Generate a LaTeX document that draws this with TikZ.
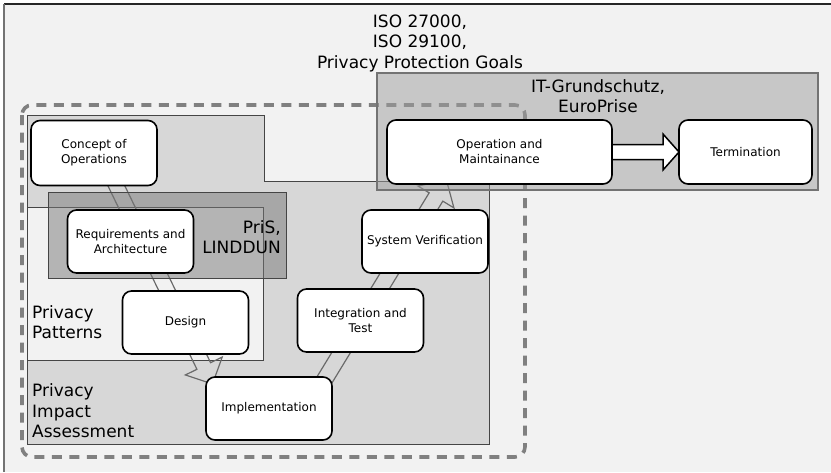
\documentclass[tikz,border=0pt]{standalone}
\usepackage{fontspec}
\setmainfont{DejaVu Sans}
\usetikzlibrary{calc}
\definecolor{bgc}{HTML}{F2F2F2}
\definecolor{piafill}{HTML}{D7D7D7}
\definecolor{dashc}{HTML}{808080}
\definecolor{arrc}{HTML}{6A6A6A}
\definecolor{prisfill}{HTML}{787878}
\definecolor{itfill}{HTML}{9E9E9E}
\definecolor{edgec}{HTML}{454545}

% #1 style, #2 start, #3 end, #4 half shaft, #5 half head, #6 head length
\newcommand\myblockarrow[6]{%
  \coordinate (ba-h) at ($(#3)!#6!(#2)$);
  \draw[#1] ($(#2)!#4!90:(#3)$) -- ($(ba-h)!#4!90:(#3)$) -- ($(ba-h)!#5!90:(#3)$)
    -- (#3) -- ($(ba-h)!#5!-90:(#3)$) -- ($(ba-h)!#4!-90:(#3)$) -- ($(#2)!#4!-90:(#3)$) -- cycle;
}

\tikzset{
  x=1pt, y=-1pt,
  proc/.style={draw=black, line width=1.6pt, fill=white, rounded corners=9pt,
    align=center, inner sep=0pt, minimum width=126pt, minimum height=63pt,
    font=\fontsize{12}{15}\selectfont},
  lbl/.style={inner sep=0pt, font=\fontsize{17}{20.5}\selectfont},
  region/.style={draw=edgec, line width=0.9pt},
  hollowarrow/.style={draw=arrc, line width=1.2pt, line join=miter},
  solidarrow/.style={draw=black, fill=white, line width=1.5pt, line join=miter},
}

\begin{document}
\begin{tikzpicture}
\useasboundingbox (0,0) rectangle (831,472);
\clip (0,0) rectangle (831,472);
\fill[white] (0,0) rectangle (831,472);
\fill[bgc] (4,4) rectangle (831,472);
\draw[black!85, line width=1.6pt] (831,4) -- (4,4);
\draw[black!55, line width=1.6pt] (4,4) -- (4,472);

% Privacy Impact Assessment region
\filldraw[region, fill=piafill] (27,115) -- (264,115) -- (264,181) -- (489,181)
  -- (489,444) -- (27,444) -- cycle;
% Privacy Patterns region
\filldraw[region, fill=bgc] (27,207) rectangle (263,360);

% dashed boundary
\draw[dashc, line width=3.6pt, dash pattern=on 10pt off 7.5pt, rounded corners=10pt]
  (22,105) rectangle (525,457);

% diagonal hollow arrows (behind boxes)
\coordinate (a1s) at (99,150);
\coordinate (a1e) at (212.5,384);
\coordinate (a2s) at (300,420);
\coordinate (a2e) at (446.4,179.9);
\myblockarrow{hollowarrow}{a1s}{a1e}{7.6pt}{20.5pt}{20pt}
\myblockarrow{hollowarrow}{a2s}{a2e}{8pt}{21pt}{20pt}

% PriS, LINDDUN box
\filldraw[region, draw=edgec, fill=prisfill, fill opacity=0.5] (48,192) rectangle (286,278);
% IT-Grundschutz box
\filldraw[draw=black!55, line width=1.3pt, fill=itfill, fill opacity=0.5] (377,73) rectangle (818,190);

% horizontal arrow (Operation -> Termination)
\coordinate (a3s) at (600,152);
\coordinate (a3e) at (679,152);
\myblockarrow{solidarrow}{a3s}{a3e}{7.5pt}{18pt}{16pt}

% process nodes
\node[proc, minimum height=65pt] (concept) at (94,153) {Concept of\\Operations};
\node[proc] (req) at (130.5,241.5) {Requirements and\\Architecture};
\node[proc] (design) at (185.5,322.5) {Design};
\node[proc] (impl) at (269,408.5) {Implementation};
\node[proc] (integ) at (360.5,320.5) {Integration and\\Test};
\node[proc] (sysver) at (425,241.5) {System Verification};
\node[proc, minimum width=225pt, minimum height=64pt] (oper) at (499.5,152) {Operation and\\Maintainance};
\node[proc, minimum width=133pt, minimum height=64pt] (term) at (745.5,152) {Termination};

% labels
\node[lbl, align=center] (title) at (420,43) {ISO 27000,\\ISO 29100,\\Privacy Protection Goals};
\node[lbl, align=center] (itlbl) at (598,96) {IT-Grundschutz,\\EuroPrise};
\node[lbl, align=right, anchor=east] (prislbl) at (281,237) {PriS,\\LINDDUN};
\node[lbl, align=left, anchor=west] (patlbl) at (32,322) {Privacy\\Patterns};
\node[lbl, align=left, anchor=west] (pialbl) at (32,411) {Privacy\\Impact\\Assessment};
\end{tikzpicture}
\end{document}
